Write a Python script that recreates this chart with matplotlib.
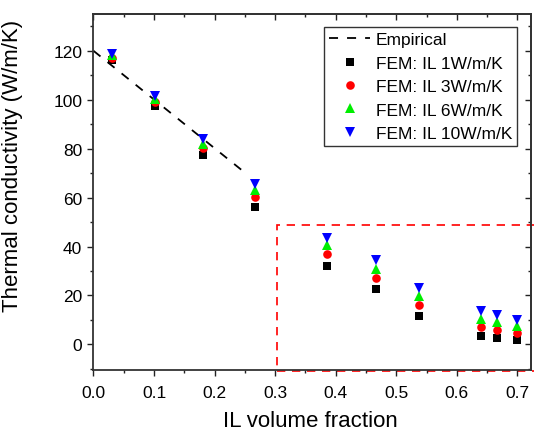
import numpy as np
import matplotlib
matplotlib.use("Agg")
import matplotlib.pyplot as plt
from matplotlib.ticker import MultipleLocator
from matplotlib.patches import Rectangle

plt.rcParams["font.family"] = ["Liberation Sans", "DejaVu Sans"]

# ─────────────────────────────────────────────────────────────────────────────
# DATA
# ─────────────────────────────────────────────────────────────────────────────
il_frac = [0.031, 0.101, 0.181, 0.267, 0.385, 0.466, 0.538, 0.639, 0.667, 0.700]

k_il1  = [116.3, 97.3, 77.6, 56.1, 32.2, 22.7, 11.5, 3.4, 2.7, 1.8]
k_il3  = [117.0, 99.0, 80.4, 60.2, 37.0, 27.2, 15.9, 7.0, 5.9, 4.6]
k_il6  = [118.3, 100.4, 82.0, 63.0, 40.8, 31.0, 19.7, 10.5, 9.0, 7.6]
k_il10 = [118.8, 101.4, 83.8, 65.4, 43.6, 34.3, 23.1, 13.8, 12.1, 10.0]

emp_x = [0.0, 0.251]
emp_y = [120.0, 70.0]

ZOOM_BOX = (0.303, -11.0, 49.0)   # x0, y0, y1  (red dashed region)

SERIES = [
    ("FEM: IL 1W/m/K",  k_il1,  "s", "black",   5.5),
    ("FEM: IL 3W/m/K",  k_il3,  "o", "#ff0000", 6.2),
    ("FEM: IL 6W/m/K",  k_il6,  "^", "#00ee00", 7.0),
    ("FEM: IL 10W/m/K", k_il10, "v", "#0000ff", 7.0),
]

# ─────────────────────────────────────────────────────────────────────────────
# PLOT
# ─────────────────────────────────────────────────────────────────────────────
fig = plt.figure(figsize=(5.34, 4.31), dpi=100)
ax = fig.add_axes([0.175, 0.139, 0.819, 0.826])

ax.plot(emp_x, emp_y, ls=(0, (5, 5)), color="black", lw=1.3, label="Empirical")
for label, vals, mk, col, ms in SERIES:
    ax.plot(il_frac, vals, ls="none", marker=mk, color=col, ms=ms,
            markeredgewidth=0, label=label)

x0, y0, y1 = ZOOM_BOX
ax.add_patch(Rectangle((x0, y0), 0.5, y1 - y0, fill=False, ec="#ff0000",
                       ls=(0, (5, 4)), lw=1.2, clip_on=False, zorder=0))

ax.set_xlim(0, 0.722)
ax.set_ylim(-10.5, 135)
ax.xaxis.set_minor_locator(MultipleLocator(0.05))
ax.yaxis.set_minor_locator(MultipleLocator(10))
ax.set_xticks(np.arange(0, 0.71, 0.1))
ax.set_yticks(np.arange(0, 121, 20))

ax.tick_params(which="both", direction="out", labelsize=12.5, color="#222")
ax.tick_params(axis="x", pad=6)
ax.tick_params(which="major", length=4.5, width=1)
ax.tick_params(which="minor", length=2.5, width=1)
for sp in ax.spines.values():
    sp.set_linewidth(1.3)
    sp.set_color("#333")

# mirrored ticks pointing inward on top/right (Origin style)
top = ax.secondary_xaxis("top")
top.xaxis.set_major_locator(MultipleLocator(0.1))
top.xaxis.set_minor_locator(MultipleLocator(0.05))
top.tick_params(which="both", direction="in", labeltop=False, color="#222")
top.tick_params(which="major", length=4.5, width=1)
top.tick_params(which="minor", length=2.5, width=1)
top.spines["top"].set_linewidth(1.3)
top.spines["top"].set_color("#333")
right = ax.secondary_yaxis("right")
right.yaxis.set_major_locator(MultipleLocator(20))
right.yaxis.set_minor_locator(MultipleLocator(10))
right.tick_params(which="both", direction="in", labelright=False, color="#222")
right.tick_params(which="major", length=4.5, width=1)
right.tick_params(which="minor", length=2.5, width=1)
right.spines["right"].set_linewidth(1.3)
right.spines["right"].set_color("#333")

ax.set_xlabel("IL volume fraction", fontsize=16)
ax.set_ylabel("Thermal conductivity (W/m/K)", fontsize=16)
ax.xaxis.set_label_coords(0.495, -0.112)
ax.yaxis.set_label_coords(-0.16, 0.576)

leg = ax.legend(loc="upper right", bbox_to_anchor=(0.968, 0.9635),
                borderaxespad=0, fontsize=12.5, frameon=True, fancybox=False,
                handlelength=2.4, handletextpad=0.3, labelspacing=0.48,
                borderpad=0.28, edgecolor="black")
leg.get_frame().set_linewidth(1.0)

fig.savefig("out.png", dpi=100)
